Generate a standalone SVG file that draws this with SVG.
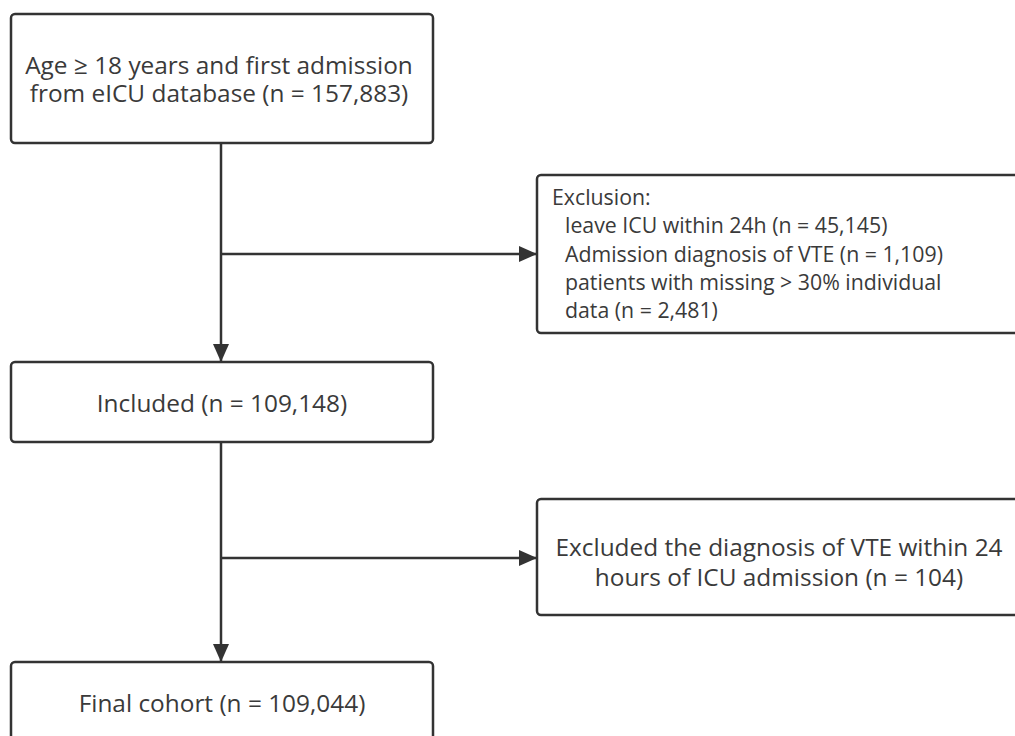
<svg xmlns="http://www.w3.org/2000/svg" width="1015" height="736" viewBox="0 0 1015 736">
<style>
.box{fill:#fff;stroke:#333;stroke-width:2.5}
.t{font-family:"Open Sans","Noto Sans","DejaVu Sans",sans-serif;font-size:24.4px;fill:#3a3a3a}
.s{font-size:21.3px}
.c{text-anchor:middle}
.ln{stroke:#333;stroke-width:2.5;fill:none}
</style>
<defs>
<marker id="ah" markerUnits="userSpaceOnUse" markerWidth="18" markerHeight="16" refX="18" refY="8" orient="auto">
<path d="M0,0 L18,8 L0,16 Z" fill="#333"/>
</marker>
</defs>
<rect width="1015" height="736" fill="#fff"/>
<g id="connectors">
<line class="ln" x1="221" y1="143" x2="221" y2="362" marker-end="url(#ah)"/>
<line class="ln" x1="221" y1="254" x2="537" y2="254" marker-end="url(#ah)"/>
<line class="ln" x1="221" y1="442" x2="221" y2="662" marker-end="url(#ah)"/>
<line class="ln" x1="221" y1="558" x2="537" y2="558" marker-end="url(#ah)"/>
</g>
<g id="start">
<rect class="box" x="11" y="14" width="422" height="129" rx="4"/>
<text class="t c" x="219" y="74">Age ≥ 18 years and first admission</text>
<text class="t c" x="219" y="102">from eICU database (n = 157,883)</text>
</g>
<g id="exclusion1">
<rect class="box" x="537" y="175" width="490" height="158" rx="4"/>
<text class="t s" x="552" y="205">Exclusion:</text>
<text class="t s" x="565" y="233">leave ICU within 24h (n = 45,145)</text>
<text class="t s" x="565" y="262">Admission diagnosis of VTE (n = 1,109)</text>
<text class="t s" x="565" y="290">patients with missing &gt; 30% individual</text>
<text class="t s" x="565" y="318">data (n = 2,481)</text>
</g>
<g id="included">
<rect class="box" x="11" y="362" width="422" height="80" rx="4"/>
<text class="t c" x="222" y="412">Included (n = 109,148)</text>
</g>
<g id="exclusion2">
<rect class="box" x="537" y="499" width="490" height="116" rx="4"/>
<text class="t c" x="779" y="556">Excluded the diagnosis of VTE within 24</text>
<text class="t c" x="779" y="586">hours of ICU admission (n = 104)</text>
</g>
<g id="final">
<rect class="box" x="11" y="662" width="422" height="100" rx="4"/>
<text class="t c" x="222" y="712">Final cohort (n = 109,044)</text>
</g>
</svg>
